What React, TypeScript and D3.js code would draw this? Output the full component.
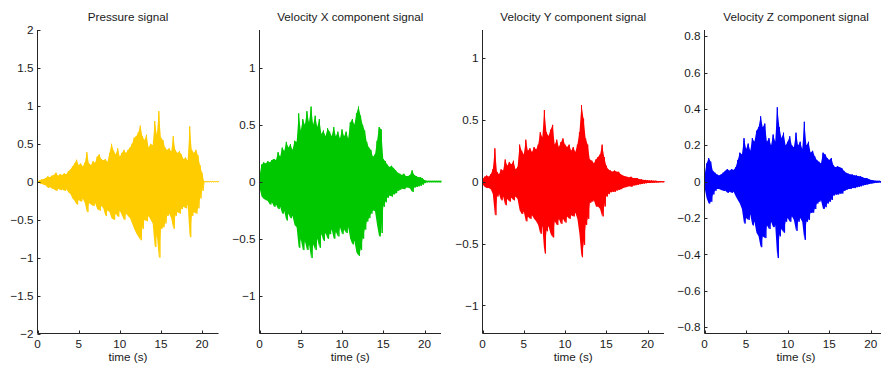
import React from "react";
import * as d3 from "d3";

// sampling step of the envelope data (seconds)
const T_STEP = 0.25;

// Envelope data (upper / lower peaks) per 0.25 s, t = 0 .. 22
const pressureHi = [
  0, 0.02, 0.03, 0.035,
  0.05, 0.07, 0.06, 0.08,
  0.09, 0.12, 0.08, 0.10,
  0.09, 0.11, 0.10, 0.14,
  0.16, 0.2, 0.24, 0.29,
  0.22, 0.24, 0.2, 0.25,
  0.39, 0.24, 0.22, 0.27,
  0.25, 0.33, 0.36, 0.3,
  0.28, 0.3, 0.26, 0.38,
  0.5, 0.41, 0.36, 0.44,
  0.33, 0.38, 0.42, 0.38,
  0.42, 0.45, 0.5, 0.58,
  0.6, 0.65, 0.74, 0.6,
  0.55, 0.62, 0.45, 0.5,
  0.48, 0.8, 0.62, 0.93,
  0.58, 0.55, 0.45, 0.42,
  0.44, 0.4, 0.6, 0.42,
  0.38, 0.4, 0.36, 0.3,
  0.32, 0.28, 0.73, 0.42,
  0.38, 0.42, 0.35, 0.22,
  0.12, 0.004, 0.004, 0.004,
  0.004, 0.004, 0.004, 0.004,
  0.004,
];
const pressureLo = [
  0, -0.02, -0.03, -0.04,
  -0.05, -0.08, -0.07, -0.09,
  -0.1, -0.12, -0.09, -0.11,
  -0.1, -0.12, -0.1, -0.14,
  -0.16, -0.22, -0.25, -0.3,
  -0.24, -0.26, -0.22, -0.28,
  -0.4, -0.28, -0.3, -0.32,
  -0.28, -0.36, -0.38, -0.32,
  -0.35, -0.45, -0.38, -0.4,
  -0.48, -0.5, -0.42, -0.46,
  -0.38, -0.44, -0.5, -0.42,
  -0.45, -0.48, -0.55, -0.62,
  -0.68, -0.72, -0.77, -0.62,
  -0.5, -0.52, -0.45, -0.5,
  -0.55, -0.86, -0.7, -1.0,
  -0.62, -0.6, -0.55, -0.45,
  -0.42, -0.48, -0.62, -0.45,
  -0.4, -0.42, -0.36, -0.33,
  -0.35, -0.3, -0.73, -0.45,
  -0.4, -0.42, -0.35, -0.22,
  -0.12, -0.004, -0.004, -0.004,
  -0.004, -0.004, -0.004, -0.004,
  -0.004,
];

const velXHi = [
  0.05, 0.15, 0.17, 0.16,
  0.18, 0.17, 0.19, 0.2,
  0.19, 0.26, 0.22, 0.3,
  0.27, 0.35, 0.3, 0.33,
  0.28, 0.36, 0.35, 0.6,
  0.45, 0.55, 0.5, 0.62,
  0.52, 0.66, 0.5, 0.58,
  0.48, 0.55, 0.42, 0.45,
  0.4, 0.47, 0.44, 0.4,
  0.48, 0.4, 0.44, 0.38,
  0.46, 0.4, 0.44, 0.38,
  0.52, 0.55, 0.5, 0.6,
  0.66, 0.58, 0.5, 0.45,
  0.35, 0.3, 0.28, 0.22,
  0.24, 0.36, 0.48, 0.46,
  0.2, 0.18, 0.15, 0.13,
  0.14, 0.12, 0.1, 0.08,
  0.07, 0.06, 0.07, 0.05,
  0.05, 0.06, 0.1, 0.06,
  0.05, 0.04, 0.04, 0.03,
  0.015, 0.008, 0.008, 0.008,
  0.008, 0.008, 0.008, 0.008,
  0.008,
];
const velXLo = [
  -0.05, -0.13, -0.15, -0.16,
  -0.17, -0.2, -0.18, -0.22,
  -0.2, -0.24, -0.22, -0.28,
  -0.26, -0.34, -0.28, -0.32,
  -0.3, -0.38, -0.4, -0.58,
  -0.5, -0.6, -0.52, -0.6,
  -0.55, -0.67, -0.55, -0.6,
  -0.5, -0.58, -0.46, -0.52,
  -0.45, -0.5, -0.46, -0.42,
  -0.5, -0.44, -0.48, -0.4,
  -0.46, -0.42, -0.45, -0.4,
  -0.5, -0.55, -0.52, -0.62,
  -0.65, -0.6, -0.5, -0.42,
  -0.35, -0.32, -0.28, -0.25,
  -0.26, -0.38, -0.48, -0.45,
  -0.22, -0.18, -0.14, -0.12,
  -0.13, -0.11, -0.1, -0.08,
  -0.07, -0.06, -0.065, -0.05,
  -0.05, -0.06, -0.09, -0.05,
  -0.045, -0.04, -0.035, -0.025,
  -0.012, -0.005, -0.005, -0.005,
  -0.005, -0.005, -0.005, -0.005,
  -0.005,
];

const velYHi = [
  0.02, 0.04, 0.05, 0.04,
  0.06, 0.1, 0.27, 0.08,
  0.06, 0.1, 0.09, 0.18,
  0.13, 0.16, 0.14, 0.17,
  0.1, 0.12, 0.3, 0.25,
  0.22, 0.34, 0.25, 0.27,
  0.24, 0.28, 0.26, 0.3,
  0.4, 0.36, 0.58, 0.4,
  0.37, 0.42, 0.46, 0.3,
  0.34, 0.28, 0.32, 0.35,
  0.3, 0.28, 0.3, 0.25,
  0.28, 0.24, 0.3, 0.4,
  0.62, 0.51, 0.35, 0.3,
  0.18, 0.17, 0.15, 0.18,
  0.2, 0.22, 0.3, 0.2,
  0.13, 0.1, 0.09, 0.08,
  0.09, 0.08, 0.08, 0.06,
  0.05, 0.045, 0.04, 0.035,
  0.04, 0.03, 0.03, 0.03,
  0.02, 0.02, 0.015, 0.015,
  0.012, 0.01, 0.01, 0.008,
  0.008, 0.006, 0.006, 0.005,
  0.005,
];
const velYLo = [
  -0.02, -0.04, -0.05, -0.05,
  -0.06, -0.1, -0.27, -0.12,
  -0.1, -0.15, -0.12, -0.19,
  -0.14, -0.16, -0.13, -0.15,
  -0.12, -0.14, -0.23, -0.26,
  -0.24, -0.32, -0.28, -0.3,
  -0.27, -0.3, -0.32, -0.35,
  -0.42, -0.36, -0.58, -0.4,
  -0.36, -0.42, -0.45, -0.32,
  -0.35, -0.3, -0.34, -0.3,
  -0.33, -0.28, -0.3, -0.27,
  -0.28, -0.25, -0.3, -0.42,
  -0.61, -0.51, -0.35, -0.3,
  -0.17, -0.16, -0.15, -0.2,
  -0.2, -0.22, -0.28, -0.2,
  -0.12, -0.1, -0.085, -0.08,
  -0.08, -0.07, -0.065, -0.06,
  -0.05, -0.045, -0.04, -0.035,
  -0.04, -0.03, -0.028, -0.025,
  -0.02, -0.018, -0.015, -0.012,
  -0.01, -0.01, -0.008, -0.008,
  -0.007, -0.006, -0.005, -0.005,
  -0.004,
];

const velZHi = [
  0.03, 0.1, 0.13, 0.11,
  0.06, 0.05, 0.04, 0.035,
  0.04, 0.05, 0.06, 0.07,
  0.06, 0.07, 0.065, 0.08,
  0.12, 0.16, 0.15, 0.24,
  0.18, 0.21, 0.17, 0.24,
  0.22, 0.28, 0.3, 0.36,
  0.3, 0.32, 0.22, 0.24,
  0.2, 0.26, 0.22, 0.41,
  0.3, 0.24, 0.27, 0.2,
  0.22, 0.25, 0.2, 0.19,
  0.27, 0.2, 0.22, 0.18,
  0.33, 0.2, 0.22, 0.16,
  0.17, 0.14, 0.12, 0.11,
  0.1, 0.16, 0.15, 0.13,
  0.12, 0.13, 0.09, 0.08,
  0.085, 0.08, 0.075, 0.06,
  0.05, 0.045, 0.04, 0.04,
  0.035, 0.035, 0.03, 0.03,
  0.025, 0.02, 0.02, 0.015,
  0.01, 0.008, 0.006, 0.005,
  0.005, 0.004, 0.004, 0.004,
  0.004,
];
const velZLo = [
  -0.03, -0.09, -0.12, -0.11,
  -0.07, -0.05, -0.04, -0.04,
  -0.045, -0.05, -0.05, -0.06,
  -0.055, -0.06, -0.055, -0.08,
  -0.1, -0.12, -0.15, -0.23,
  -0.2, -0.21, -0.18, -0.24,
  -0.22, -0.28, -0.3, -0.36,
  -0.3, -0.31, -0.24, -0.26,
  -0.22, -0.25, -0.24, -0.42,
  -0.3, -0.26, -0.28, -0.22,
  -0.2, -0.22, -0.19, -0.21,
  -0.27, -0.22, -0.2, -0.22,
  -0.32, -0.22, -0.21, -0.17,
  -0.17, -0.15, -0.12, -0.11,
  -0.1, -0.15, -0.14, -0.12,
  -0.11, -0.1, -0.075, -0.07,
  -0.07, -0.065, -0.065, -0.05,
  -0.045, -0.04, -0.04, -0.035,
  -0.035, -0.03, -0.028, -0.025,
  -0.02, -0.018, -0.015, -0.012,
  -0.01, -0.008, -0.006, -0.005,
  -0.004, -0.004, -0.004, -0.004,
  -0.004,
];

// Axis ticks
const xTicks = [0, 5, 10, 15, 20];
const pressureTicks = [-2, -1.5, -1, -0.5, 0, 0.5, 1, 1.5, 2];
const velXTicks = [-1, -0.5, 0, 0.5, 1];
const velYTicks = [-1, -0.5, 0, 0.5, 1];
const velZTicks = [-0.8, -0.6, -0.4, -0.2, 0, 0.2, 0.4, 0.6, 0.8];

const titles = [
  "Pressure signal",
  "Velocity X component signal",
  "Velocity Y component signal",
  "Velocity Z component signal",
];
const colors = ["#ffcc00", "#00c800", "#ff0000", "#0000ff"];
const yLimits = [2, 1.333, 1.227, 0.835];

const panels = [
  { hi: pressureHi, lo: pressureLo, ticks: pressureTicks, left: 37.5, right: 218.5 },
  { hi: velXHi, lo: velXLo, ticks: velXTicks, left: 259.5, right: 441 },
  { hi: velYHi, lo: velYLo, ticks: velYTicks, left: 482.5, right: 664 },
  { hi: velZHi, lo: velZLo, ticks: velZTicks, left: 704.5, right: 887.5 },
].map((p, i) => ({ ...p, title: titles[i], color: colors[i], ylim: yLimits[i] }));

const TOP = 30;
const BOTTOM = 333.5;
const FONT = "'Liberation Sans', Arial, Helvetica, sans-serif";
const FS = 11.7;
const AXIS = "#262626";

const fmt = (d: number) => {
  if (d === 0) return "0";
  const s = String(+Math.abs(d).toFixed(2));
  return (d < 0 ? "\u2212" : "") + s;
};

function Panel({ p }: { p: any }) {
  const x = d3.scaleLinear().domain([0, 22]).range([p.left, p.right]);
  const y = d3.scaleLinear().domain([-p.ylim, p.ylim]).range([BOTTOM, TOP]);
  const idx = d3.range(p.hi.length);
  // solid core between upper and lower envelopes
  const area = d3
    .area<number>()
    .x((i) => x(i * T_STEP))
    .y0((i) => y(p.lo[i]))
    .y1((i) => y(p.hi[i]));
  // oscillation trace alternating between the envelope peaks
  const pts: [number, number][] = [];
  p.hi.forEach((h: number, i: number) => {
    const t = i * T_STEP;
    pts.push([t, h]);
    pts.push([Math.min(22, t + T_STEP / 2), p.lo[i]]);
  });
  const line = d3
    .line<[number, number]>()
    .x((d) => x(d[0]))
    .y((d) => y(d[1]));
  const cx = (p.left + p.right) / 2;
  return (
    <g>
      <path d={area(idx) || ""} fill={p.color} stroke="none" />
      <path d={line(pts) || ""} fill="none" stroke={p.color} strokeWidth={1} />
      {/* axes */}
      <line x1={p.left} x2={p.left} y1={TOP} y2={BOTTOM} stroke={AXIS} strokeWidth={1} />
      <line x1={p.left} x2={p.right} y1={BOTTOM} y2={BOTTOM} stroke={AXIS} strokeWidth={1} />
      {p.ticks.map((t: number) => (
        <g key={"y" + t}>
          <line x1={p.left} x2={p.left + 3} y1={Math.round(y(t)) + 0.5} y2={Math.round(y(t)) + 0.5} stroke={AXIS} strokeWidth={1} />
          <text x={p.left - 4} y={y(t)} dy="0.35em" textAnchor="end" fontSize={FS} fontFamily={FONT} fill="#1a1a1a">
            {fmt(t)}
          </text>
        </g>
      ))}
      {xTicks.map((t) => (
        <g key={"x" + t}>
          <line x1={Math.round(x(t)) + 0.5} x2={Math.round(x(t)) + 0.5} y1={BOTTOM} y2={BOTTOM - 3} stroke={AXIS} strokeWidth={1} />
          <text x={x(t)} y={348} textAnchor="middle" fontSize={FS} fontFamily={FONT} fill="#1a1a1a">
            {t}
          </text>
        </g>
      ))}
      <text x={cx} y={20.5} textAnchor="middle" fontSize={FS} fontFamily={FONT} fill="#1a1a1a">
        {p.title}
      </text>
      <text x={cx} y={361} textAnchor="middle" fontSize={FS} fontFamily={FONT} fill="#1a1a1a">
        time (s)
      </text>
    </g>
  );
}

export default function App() {
  return (
    <svg
      width={881}
      height={369}
      style={{ position: "absolute", left: 0, top: 0, background: "#fff", overflow: "hidden" }}
    >
      <rect x={0} y={0} width={881} height={369} fill="#fff" />
      {panels.map((p, i) => (
        <Panel key={i} p={p} />
      ))}
    </svg>
  );
}
